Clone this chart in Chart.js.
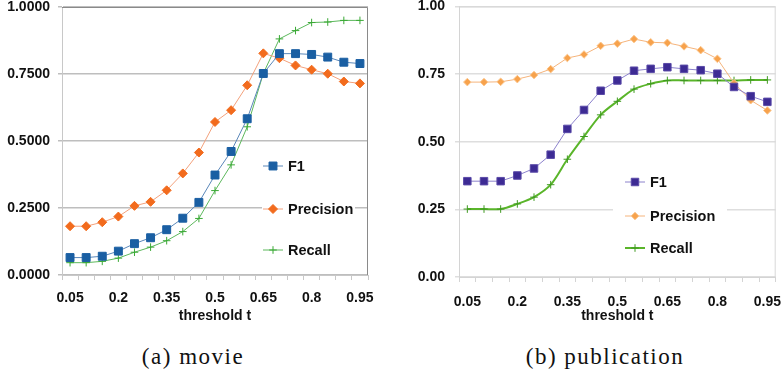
<!DOCTYPE html>
<html>
<head>
<meta charset="utf-8">
<script src="https://cdn.jsdelivr.net/npm/chart.js@4.4.1/dist/chart.umd.min.js"></script>
<style>
  html, body { margin: 0; padding: 0; background: #fff; }
  #wrap { position: relative; width: 782px; height: 372px; overflow: hidden; }
  canvas { position: absolute; top: 0; }
  #movieCanvas { left: 0; }
  #pubCanvas { left: 392px; }
  .caption {
    position: absolute; top: 344px; width: 300px; text-align: center;
    font-family: "Liberation Serif", serif; font-size: 23px; letter-spacing: 1.5px; color: #111;
  }
</style>
</head>
<body>
<div id="wrap">
  <canvas id="movieCanvas" width="392" height="325"></canvas>
  <canvas id="pubCanvas" width="390" height="325"></canvas>
  <div class="caption" style="left:43px">(a) movie</div>
  <div class="caption" style="left:455px">(b) publication</div>
</div>
<script>
const thresholds = ['0.05', '0.1', '0.15', '0.2', '0.25', '0.3', '0.35', '0.4', '0.45', '0.5',
  '0.55', '0.6', '0.65', '0.7', '0.75', '0.8', '0.85', '0.9', '0.95'];

// (a) movie
const movieF1 = [0.065, 0.065, 0.070, 0.089, 0.117, 0.139, 0.169, 0.212, 0.271, 0.373,
  0.461, 0.583, 0.752, 0.826, 0.826, 0.823, 0.813, 0.794, 0.789];
const moviePrecision = [0.182, 0.182, 0.197, 0.218, 0.258, 0.273, 0.316, 0.379, 0.457, 0.571,
  0.615, 0.708, 0.827, 0.809, 0.782, 0.766, 0.751, 0.722, 0.715];
const movieRecall = [0.046, 0.046, 0.051, 0.063, 0.085, 0.104, 0.128, 0.162, 0.211, 0.315,
  0.411, 0.553, 0.752, 0.881, 0.912, 0.942, 0.944, 0.950, 0.950];

// (b) publication
const pubF1 = [0.354, 0.354, 0.354, 0.375, 0.401, 0.452, 0.547, 0.617, 0.688, 0.726,
  0.762, 0.769, 0.775, 0.769, 0.764, 0.751, 0.702, 0.668, 0.647];
const pubPrecision = [0.720, 0.720, 0.721, 0.731, 0.746, 0.768, 0.809, 0.822, 0.854, 0.862,
  0.879, 0.867, 0.865, 0.852, 0.838, 0.806, 0.716, 0.653, 0.615];
const pubRecall = [0.251, 0.251, 0.251, 0.270, 0.295, 0.341, 0.435, 0.519, 0.599, 0.649,
  0.694, 0.714, 0.726, 0.726, 0.726, 0.726, 0.726, 0.728, 0.728];

const seriesNames = ['F1', 'Precision', 'Recall'];
const FONT = '"Liberation Sans", Arial, sans-serif';

function marker(ctx, style, r, x, y) {
  ctx.beginPath();
  if (style === 'rect') {
    const s = r * Math.SQRT1_2;
    ctx.rect(x - s, y - s, 2 * s, 2 * s);
    ctx.fill(); ctx.stroke();
  } else if (style === 'rectRot') {
    ctx.moveTo(x, y - r); ctx.lineTo(x + r, y); ctx.lineTo(x, y + r); ctx.lineTo(x - r, y);
    ctx.closePath(); ctx.fill(); ctx.stroke();
  } else {
    ctx.moveTo(x - r, y); ctx.lineTo(x + r, y);
    ctx.moveTo(x, y - r); ctx.lineTo(x, y + r);
    ctx.stroke();
  }
}

// legend sits inside the plot on a white box, plus the plot frame
const insideLegend = {
  id: 'insideLegend',
  afterDraw(chart, args, opts) {
    const ctx = chart.ctx;
    const a = chart.chartArea;
    ctx.save();
    ctx.strokeStyle = opts.frameColor;
    ctx.lineWidth = 1;
    ctx.beginPath();
    ctx.moveTo(a.left, a.top + 0.5); ctx.lineTo(a.right - 0.5, a.top + 0.5); ctx.lineTo(a.right - 0.5, a.bottom);
    ctx.stroke();

    const b = opts.box;
    ctx.fillStyle = '#fff';
    ctx.fillRect(b[0], b[1], b[2], b[3]);
    ctx.font = 'bold 14.5px ' + FONT;
    ctx.textBaseline = 'middle';
    chart.data.datasets.forEach((ds, i) => {
      const y = opts.y[i];
      ctx.strokeStyle = ds.borderColor;
      ctx.lineWidth = ds.borderWidth;
      ctx.beginPath();
      ctx.moveTo(opts.x, y); ctx.lineTo(opts.x + opts.len, y);
      ctx.stroke();
      ctx.fillStyle = ds.pointBackgroundColor;
      ctx.strokeStyle = ds.pointBorderColor;
      ctx.lineWidth = ds.pointBorderWidth;
      marker(ctx, ds.pointStyle, ds.pointRadius, opts.x + opts.len / 2, y);
      ctx.fillStyle = '#111';
      ctx.fillText(ds.label, opts.x + opts.len + 5, y + 1);
    });
    ctx.restore();
  }
};

function series(label, data, line, fill, edge, style, r, width, tension) {
  return {
    label: label, data: data,
    borderColor: line, borderWidth: width, tension: tension || 0,
    pointStyle: style, pointRadius: r, pointHoverRadius: r,
    pointBackgroundColor: fill, pointBorderColor: edge, pointBorderWidth: 1
  };
}

function makeChart(id, cfg) {
  return new Chart(document.getElementById(id), {
    type: 'line',
    data: { labels: thresholds, datasets: cfg.datasets },
    options: {
      responsive: false,
      animation: false,
      layout: { padding: { top: cfg.top, right: cfg.right, left: 0, bottom: 0 } },
      plugins: {
        legend: { display: false },
        tooltip: { enabled: false },
        insideLegend: cfg.legend
      },
      scales: {
        x: {
          offset: true,
          grid: { offset: true, drawOnChartArea: false, drawTicks: true, tickLength: 5, color: cfg.axisColor },
          border: { color: cfg.axisColor },
          ticks: {
            autoSkip: false, maxRotation: 0, padding: cfg.xPad, color: '#111',
            font: { family: FONT, size: 14, weight: 'bold' },
            callback: function (v, i) { return i % 3 === 0 ? this.getLabelForValue(v) : ''; }
          },
          title: { display: true, text: 'threshold t', color: '#111', padding: 0,
            font: { family: FONT, size: 14, weight: 'bold' } },
          afterFit: s => { s.height = cfg.xHeight; s.paddingLeft = 0; s.paddingRight = 0; }
        },
        y: {
          min: 0, max: 1,
          grid: { color: cfg.gridColor, lineWidth: 1.5, tickLength: 4 },
          border: { color: cfg.axisColor },
          ticks: {
            stepSize: 0.25, padding: cfg.yPad, color: '#111',
            font: { family: FONT, size: 14, weight: 'bold' },
            callback: v => v.toFixed(cfg.digits)
          },
          afterFit: s => { s.width = cfg.yWidth; s.paddingTop = 0; s.paddingBottom = 0; }
        }
      }
    },
    plugins: [insideLegend]
  });
}

makeChart('movieCanvas', {
  top: 7, right: 24, xHeight: 50, xPad: 10, yWidth: 62, yPad: 8, digits: 4,
  gridColor: '#bebebe', axisColor: '#c8c8c8',
  datasets: [
    series(seriesNames[0], movieF1, '#5a87b9', '#1a5fa3', '#1a5fa3', 'rect', 5.6, 1),
    series(seriesNames[1], moviePrecision, '#f3a17c', '#f26b1d', '#f26b1d', 'rectRot', 4.5, 1),
    series(seriesNames[2], movieRecall, '#5cb85c', '#3aa935', '#3aa935', 'cross', 3.8, 1)
  ],
  legend: { frameColor: '#8a8a8a', box: [262, 148, 93, 118], x: 263, len: 20, y: [166, 209, 250] }
});

makeChart('pubCanvas', {
  top: 5, right: 6, xHeight: 48, xPad: 12, yWidth: 67, yPad: 10, digits: 2,
  gridColor: '#dedede', axisColor: '#d4d4d4',
  datasets: [
    series(seriesNames[0], pubF1, '#8c82cc', '#3d2b94', '#5a4aa8', 'rect', 5.3, 1),
    series(seriesNames[1], pubPrecision, '#f5b47c', '#f7a24c', '#fbc68e', 'rectRot', 3.8, 1),
    series(seriesNames[2], pubRecall, '#5ab52a', '#5ab52a', '#3f9a20', 'cross', 3.8, 2, 0.3)
  ],
  legend: { frameColor: '#d8d8d8', box: [221, 165, 114, 98], x: 233, len: 20, y: [182, 216, 248] }
});
</script>
</body>
</html>
